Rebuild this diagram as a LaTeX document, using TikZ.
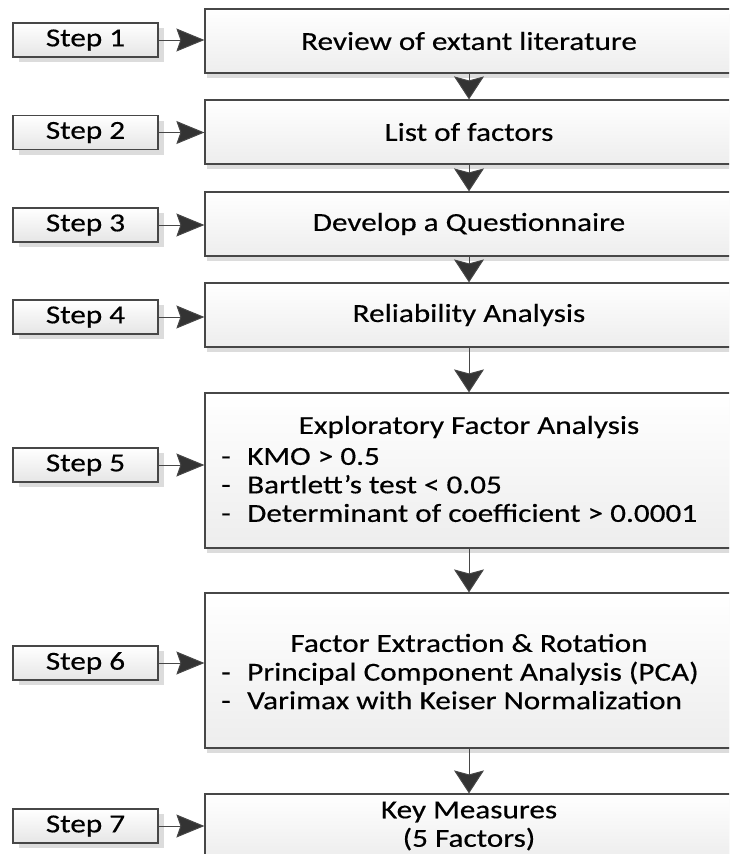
\documentclass[tikz,border=0pt]{standalone}
\usepackage{fontspec}
\setmainfont{Carlito}[FakeStretch=1.2,FakeBold=0.4]
\usetikzlibrary{arrows.meta,shadows}
\begin{document}
\begin{tikzpicture}[x=1pt,y=-1pt,
  mainbox/.style={draw=black!72, line width=1.2pt, top color=white, bottom color=black!7,
    minimum width=528pt, inner sep=0pt,
    drop shadow={shadow xshift=2pt, shadow yshift=-5pt, fill=black!30, opacity=0.45}},
  stepbox/.style={draw=black!72, line width=1.2pt, top color=white, bottom color=black!10,
    minimum width=145pt, minimum height=34pt, inner sep=0pt,
    font=\fontsize{26}{28.5}\selectfont,
    drop shadow={shadow xshift=6pt, shadow yshift=-5pt, fill=black!30, opacity=0.45}},
  txt/.style={font=\fontsize{26}{28.5}\selectfont, inner sep=0pt},
  harrow/.style={draw=black!72, line width=1pt,
    -{Stealth[length=28pt,width=23pt,inset=4pt,fill=black!80]}},
  varrow/.style={draw=black!72, line width=1pt,
    -{Stealth[length=23pt,width=30pt,inset=4pt,fill=black!80]}}]
\useasboundingbox (0,0) rectangle (729,854);
\clip (0,0) rectangle (729,854);

% main boxes
\node[mainbox, minimum height=64pt, txt] (b1) at (469,41) {Review of extant literature};
\node[mainbox, minimum height=64pt, txt] (b2) at (469,132) {List of factors};
\node[mainbox, minimum height=64pt, txt] (b3) at (469,224) {Develop a Questionnaire};
\node[mainbox, minimum height=64pt, txt] (b4) at (469,315) {Reliability Analysis};
\node[mainbox, minimum height=155pt] (b5) at (469,470.5) {};
\node[mainbox, minimum height=155pt] (b6) at (469,670.5) {};
\node[mainbox, minimum height=64pt, txt, align=center] (b7) at (469,826) {Key Measures\\(5 Factors)};

% texts inside boxes 5 and 6
\node[txt] (t5) at (469,427) {Exploratory Factor Analysis};
\node[txt, anchor=west, align=left] (l5) at (221,485)
  {\makebox[26pt][l]{-}KMO > 0.5\\
   \makebox[26pt][l]{-}Bartlett’s test < 0.05\\
   \makebox[26pt][l]{-}Determinant of coefficient > 0.0001};
\node[txt] (t6) at (469,643) {Factor Extraction \& Rotation};
\node[txt, anchor=west, align=left] (l6) at (221,685.5)
  {\makebox[26pt][l]{-}Principal Component Analysis (PCA)\\
   \makebox[26pt][l]{-}Varimax with Keiser Normalization};

% step boxes
\node[stepbox] (s1) at (85.5,40) {Step 1};
\node[stepbox] (s2) at (85.5,132.5) {Step 2};
\node[stepbox] (s3) at (85.5,225) {Step 3};
\node[stepbox] (s4) at (85.5,317) {Step 4};
\node[stepbox] (s5) at (85.5,465) {Step 5};
\node[stepbox] (s6) at (85.5,663) {Step 6};
\node[stepbox] (s7) at (85.5,826) {Step 7};

% horizontal arrows
\foreach \i in {1,...,7}{
  \draw[harrow] (s\i.east) -- (s\i.east -| b\i.west);
}
% vertical arrows
\draw[varrow] (b1.south) -- (b2.north);
\draw[varrow] (b2.south) -- (b3.north);
\draw[varrow] (b3.south) -- (b4.north);
\draw[varrow] (b4.south) -- (b5.north);
\draw[varrow] (b5.south) -- (b6.north);
\draw[varrow] (b6.south) -- (b7.north);
\end{tikzpicture}
\end{document}
